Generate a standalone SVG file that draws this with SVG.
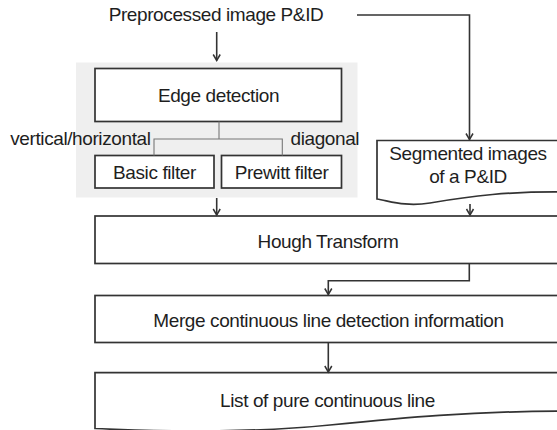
<svg xmlns="http://www.w3.org/2000/svg" width="557" height="430" viewBox="0 0 557 430">
<style>
.t{font-family:"Liberation Sans",Arial,sans-serif;font-size:19px;fill:#1e1e1e;letter-spacing:-0.4px}
.c{text-anchor:middle}
.box{fill:#fff;stroke:#333;stroke-width:1.7}
.con{fill:none;stroke:#333;stroke-width:1.6}
.thin{fill:none;stroke:#777;stroke-width:1.1}
</style>
<defs>
<marker id="ah" markerWidth="10" markerHeight="10" refX="8" refY="5" orient="auto" markerUnits="userSpaceOnUse">
<path d="M2,1.5 L8,5 L2,8.5" fill="none" stroke="#333" stroke-width="1.5"/>
</marker>
</defs>
<rect id="group-bg" x="76" y="62.5" width="281.5" height="135" fill="#efefef"/>
<g id="preprocessed"><text class="t c" x="216" y="21">Preprocessed image P&amp;ID</text></g>
<g id="edge"><rect class="box" x="95" y="68.5" width="246.5" height="53"/><text class="t c" x="218.5" y="102">Edge detection</text></g>
<g id="basic"><rect class="box" x="95" y="155.5" width="119" height="32.5"/><text class="t c" x="154.5" y="178.5">Basic filter</text></g>
<g id="prewitt"><rect class="box" x="221.5" y="155.5" width="120" height="32.5"/><text class="t c" x="281.5" y="178.5">Prewitt filter</text></g>
<g id="segmented"><path class="box" d="M377,140.5 H570 V192 C510,191 470,196 430,203 C405,207 390,201 377,199 Z"/><text class="t c" x="468" y="159.5">Segmented images</text><text class="t c" x="468" y="183">of a P&amp;ID</text></g>
<g id="hough"><rect class="box" x="95" y="216" width="480" height="47.5"/><text class="t c" x="328" y="247.5">Hough Transform</text></g>
<g id="merge"><rect class="box" x="95" y="295.5" width="480" height="47"/><text class="t c" x="328.5" y="327">Merge continuous line detection information</text></g>
<g id="list"><path class="box" d="M95,372.7 H575 V411 C470,411 400,418 330,425 C250,433 170,432 95,428.5 Z"/><text class="t c" x="327.5" y="407">List of pure continuous line</text></g>
<g id="labels"><text class="t" x="150.5" y="145" text-anchor="end">vertical/horizontal</text><text class="t" x="290.5" y="145">diagonal</text></g>
<g id="connectors">
<path class="con" d="M216.7,32 V60.5" marker-end="url(#ah)"/>
<path class="con" d="M357,15 H469.5 V139.5" marker-end="url(#ah)"/>
<path class="thin" d="M219,121.5 V139 M154,155.5 V139 H282.3 V155.5"/>
<path class="con" d="M216.7,198 V215" marker-end="url(#ah)"/>
<path class="con" d="M470,204 V215" marker-end="url(#ah)"/>
<path class="con" d="M469.3,263.5 V280.7 H328.3 V294.5" marker-end="url(#ah)"/>
<path class="con" d="M328.3,342.5 V372" marker-end="url(#ah)"/>
</g>
</svg>
